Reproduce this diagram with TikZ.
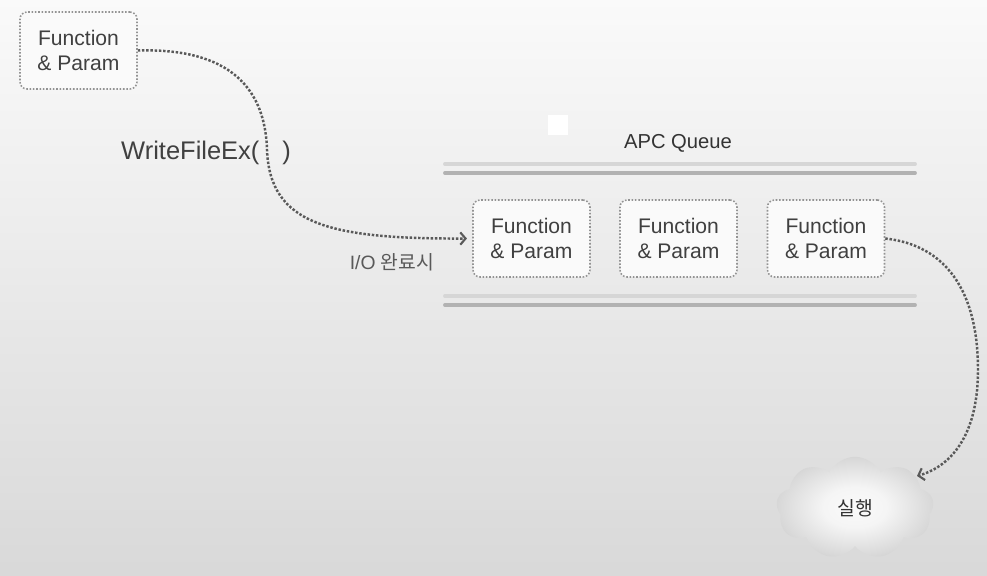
\documentclass[tikz,border=0pt]{standalone}
\usepackage{fontspec}
\setmainfont{Liberation Sans}
\newfontfamily\krfont{Noto Sans CJK KR}
\usetikzlibrary{arrows.meta,shapes.symbols}
\pgfdeclareradialshading{puff}{\pgfpoint{0bp}{0bp}}{color(0bp)=(gray!4); color(10bp)=(gray!8); color(24bp)=(gray!30); color(38bp)=(gray!58); color(50bp)=(gray!62)}

\begin{document}
\begin{tikzpicture}[x=0.02cm, y=-0.02cm,
    fp/.style={rectangle, rounded corners=4pt, draw=gray!85, densely dotted, line width=0.9pt,
        fill=gray!4, minimum width=2.34cm, minimum height=1.54cm, align=center,
        font=\fontsize{12}{14}\selectfont, text=black!75},
    link/.style={draw=black!65, densely dotted, line width=1.4pt,
        -{Straight Barb[length=3pt,width=7pt,line width=1.2pt]}},
    rail/.style={line width=2.2pt, line cap=round}]

            \shade[top color=gray!4, bottom color=gray!30] (0,0) rectangle (987,575);
            \fill[white] (548,115) rectangle (568,135);

            \draw[rail, gray!32] (445,164) -- (915,164);
            \draw[rail, gray!60] (445,173) -- (915,173);
            \draw[rail, gray!32] (445,296) -- (915,296);
            \draw[rail, gray!60] (445,305) -- (915,305);

            \begin{scope}[every node/.style={fp}]

                \node (src) at (78.5,50.5) {Function\\\& Param};
                \node (q1) at (531.5,238.5) {Function\\\& Param};
                \node (q2) at (678.5,238.5) {Function\\\& Param};
                \node (q3) at (826,238.5) {Function\\\& Param};

            \end{scope}
            \node[anchor=west, font=\fontsize{14.5}{17}\selectfont, text=black!75] (call) at (115,153) {WriteFileEx(\hspace{13pt})};
            \node[font=\fontsize{11}{13}\selectfont, text=black!65] (done) at (392,262) {I/O {\krfont 완료시}};
            \node[font=\fontsize{11.5}{13}\selectfont, text=black!80] (queue) at (678,143) {APC Queue};
            \node[cloud, cloud puffs=9, cloud puff arc=125, cloud ignores aspect, minimum width=3.15cm,
                minimum height=2.05cm, shading=puff, font=\krfont\fontsize{11}{13}\selectfont, text=black!80] (run) at (855,508) {실행};
            \coordinate (runin) at (917,476);

            \draw[link, shorten >=3pt] (src.east) .. controls (220,48) and (265,80) .. (267,150)
                .. controls (270,225) and (330,239) .. (q1.west);
            \draw[link] (q3.east) .. controls (945,245) and (978,290) .. (978,370)
                .. controls (978,430) and (955,465) .. (runin);

        \end{tikzpicture}
\end{document}
